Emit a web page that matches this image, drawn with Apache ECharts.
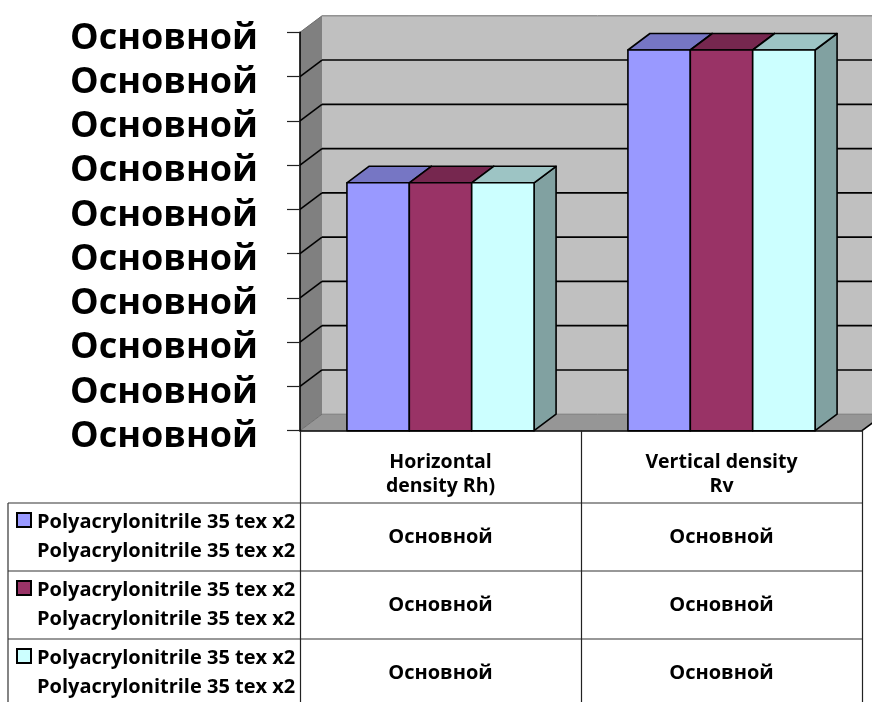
<!DOCTYPE html>
<html>
<head>
<meta charset="utf-8">
<script src="https://cdn.jsdelivr.net/npm/echarts@6/dist/echarts.min.js"></script>
<style>
  html, body { margin: 0; padding: 0; background: #ffffff; }
  #chart { width: 872px; height: 702px; }
</style>
</head>
<body>
<div id="chart"></div>
<script>
// Categories along the floor of the 3-D box (also the table header)
const categories = ['Horizontal\ndensity Rh)', 'Vertical density\nRv'];

// Series names shown in the data table's first column
const seriesNames = [
  'Polyacrylonitrile 35 tex x2\nPolyacrylonitrile 35 tex x2',
  'Polyacrylonitrile 35 tex x2\nPolyacrylonitrile 35 tex x2',
  'Polyacrylonitrile 35 tex x2\nPolyacrylonitrile 35 tex x2'
];

// Values per series (Rh, Rv)
const seriesA = [56, 86];
const seriesB = [56, 86];
const seriesC = [56, 86];
const seriesValues = [seriesA, seriesB, seriesC];

// Value axis ticks and the (general-format) label used for every tick and table cell
const yTicks = [0, 10, 20, 30, 40, 50, 60, 70, 80, 90];
const tickLabel = 'Основной';
const cellLabel = 'Основной';

const palette = ['#9999FF', '#993366', '#CCFFFF'];

// Depth of the 3-D box (pixel offset from the front plane to the back wall)
const DX = 22, DY = -16.5;
const FONT = '"Open Sans", "DejaVu Sans", sans-serif';

function shade(hex, k) {
  const n = parseInt(hex.slice(1), 16);
  const r = Math.round(((n >> 16) & 255) * k);
  const g = Math.round(((n >> 8) & 255) * k);
  const b = Math.round((n & 255) * k);
  return 'rgb(' + r + ',' + g + ',' + b + ')';
}

// Walls, floor and gridlines of the 3-D box
function renderWalls(params, api) {
  const cs = params.coordSys;
  const x0 = cs.x, x1 = cs.x + cs.width;
  const yT = cs.y, yB = cs.y + cs.height;
  const v = api.value(0);
  const y = api.coord([0, v])[1];
  const children = [];
  if (params.dataIndex === 0) {
    children.push({
      type: 'rect',
      shape: { x: x0 + DX, y: yT + DY, width: cs.width, height: cs.height },
      style: { fill: '#C0C0C0', stroke: null }
    });
    children.push({
      type: 'polygon',
      shape: { points: [[x0, yT], [x0 + DX, yT + DY], [x0 + DX, yB + DY], [x0, yB]] },
      style: { fill: '#808080', stroke: null }
    });
    children.push({
      type: 'polygon',
      shape: { points: [[x0, yB], [x0 + DX, yB + DY], [x1 + DX, yB + DY], [x1, yB]] },
      style: { fill: '#969696', stroke: null }
    });
    // back edge of the floor and its right-hand edge
    children.push({
      type: 'line',
      shape: { x1: x0 + DX, y1: yB + DY, x2: x1 + DX, y2: yB + DY },
      style: { stroke: '#7a7a7a', lineWidth: 1 }
    });
    children.push({
      type: 'line',
      shape: { x1: x1, y1: yB, x2: x1 + DX, y2: yB + DY },
      style: { stroke: '#000', lineWidth: 1.6 }
    });
  }
  const isEdge = (v === yTicks[0] || v === yTicks[yTicks.length - 1]);
  const lineColor = isEdge ? '#6e6e6e' : '#000000';
  const lw = isEdge ? 1 : 1.6;
  // diagonal on the side wall
  children.push({
    type: 'line',
    shape: { x1: x0, y1: y, x2: x0 + DX, y2: y + DY },
    style: { stroke: lineColor, lineWidth: lw }
  });
  // horizontal gridline on the back wall
  if (v !== yTicks[0]) {
    children.push({
      type: 'line',
      shape: { x1: x0 + DX, y1: y + DY, x2: x1 + DX, y2: y + DY },
      style: { stroke: lineColor, lineWidth: lw }
    });
  }
  return { type: 'group', children: children };
}

// 3-D column: side face, top face, front face
function makeBarRenderer(sIdx) {
  const base = palette[sIdx];
  const topC = shade(base, 0.77);
  const sideC = shade(base, 0.63);
  return function (params, api) {
    const cat = api.value(0);
    const val = api.value(1);
    const pBase = api.coord([cat, 0]);
    const yTop = api.coord([cat, val])[1];
    const band = api.size([1, 0])[0];
    const w = band * 0.222;
    const x = pBase[0] + (sIdx - 1) * w - w / 2;
    const yB = pBase[1];
    const stroke = { stroke: '#000', lineWidth: 1.6, lineJoin: 'round' };
    return {
      type: 'group',
      children: [
        {
          type: 'polygon',
          shape: { points: [[x + w, yTop], [x + w + DX, yTop + DY], [x + w + DX, yB + DY], [x + w, yB]] },
          style: Object.assign({ fill: sideC }, stroke)
        },
        {
          type: 'polygon',
          shape: { points: [[x, yTop], [x + DX, yTop + DY], [x + w + DX, yTop + DY], [x + w, yTop]] },
          style: Object.assign({ fill: topC }, stroke)
        },
        {
          type: 'rect',
          shape: { x: x, y: yTop, width: w, height: yB - yTop },
          style: Object.assign({ fill: base }, stroke)
        }
      ]
    };
  };
}

const chart = echarts.init(document.getElementById('chart'), null, { renderer: 'canvas' });

const GRID = { left: 300, top: 32.3, width: 562, height: 398.4 };

const series = [{
  type: 'custom',
  name: 'walls',
  z: 1,
  clip: false,
  silent: true,
  renderItem: renderWalls,
  data: yTicks.map(v => [v])
}];
seriesValues.forEach((vals, i) => {
  series.push({
    type: 'custom',
    name: seriesNames[i],
    z: 2,
    clip: false,
    renderItem: makeBarRenderer(i),
    encode: { x: 0, y: 1 },
    data: vals.map((v, c) => [c, v])
  });
});

const option = {
  animation: false,
  backgroundColor: '#ffffff',
  grid: Object.assign({ containLabel: false }, GRID),
  xAxis: {
    type: 'category',
    data: categories,
    z: 5,
    axisLine: { show: true, lineStyle: { color: '#000', width: 1.6 } },
    axisTick: { show: true, interval: 0, alignWithLabel: false, length: 272, lineStyle: { color: '#222', width: 1.2 } },
    axisLabel: {
      interval: 0,
      margin: 19,
      color: '#000',
      fontFamily: FONT,
      fontWeight: 'bold',
      fontSize: 19.5,
      lineHeight: 24.5,
      align: 'center'
    },
    splitLine: { show: false }
  },
  yAxis: {
    type: 'value',
    min: yTicks[0],
    max: yTicks[yTicks.length - 1],
    interval: yTicks[1] - yTicks[0],
    z: 5,
    axisLine: { show: true, lineStyle: { color: '#000', width: 1.6 } },
    axisTick: { show: true, length: 13, lineStyle: { color: '#222', width: 1.2 } },
    axisLabel: {
      margin: 42,
      color: '#000',
      fontFamily: FONT,
      fontWeight: 'bold',
      fontSize: 36,
      formatter: () => '{t|' + tickLabel + '}',
      rich: {
        t: {
          fontFamily: FONT,
          fontWeight: 'bold',
          fontSize: 36,
          color: '#000',
          padding: [12, 0, 0, 0]
        }
      }
    },
    splitLine: { show: false }
  },
  series: series
};
chart.setOption(option);

// Data table beneath the plot: legend keys, series names and value cells
const ROW_TOP = 503, ROW_H = 68, TABLE_LEFT = 8, TABLE_RIGHT = 862;
const colCenters = categories.map((c, i) => chart.convertToPixel({ xAxisIndex: 0 }, i));
const graphics = [];
for (let r = 0; r < 3; r++) {
  const y = ROW_TOP + r * ROW_H;
  graphics.push({
    type: 'line', silent: true,
    shape: { x1: TABLE_LEFT, y1: y, x2: TABLE_RIGHT, y2: y },
    style: { stroke: '#333', lineWidth: 1.2 }
  });
  graphics.push({
    type: 'rect', silent: true,
    shape: { x: 17, y: y + 10, width: 14, height: 14 },
    style: { fill: palette[r], stroke: '#000', lineWidth: 2 }
  });
  graphics.push({
    type: 'text', silent: true,
    x: 37, y: y + 5,
    style: {
      text: seriesNames[r],
      font: 'bold 20px ' + FONT,
      lineHeight: 29,
      fill: '#000',
      align: 'left',
      verticalAlign: 'top'
    }
  });
  colCenters.forEach(cx => {
    graphics.push({
      type: 'text', silent: true,
      x: cx, y: y + ROW_H / 2,
      style: {
        text: cellLabel,
        font: 'bold 20px ' + FONT,
        fill: '#000',
        align: 'center',
        verticalAlign: 'middle'
      }
    });
  });
}
graphics.push({
  type: 'line', silent: true,
  shape: { x1: TABLE_LEFT, y1: ROW_TOP, x2: TABLE_LEFT, y2: 702 },
  style: { stroke: '#333', lineWidth: 1.2 }
});
chart.setOption({ graphic: graphics });
</script>
</body>
</html>
